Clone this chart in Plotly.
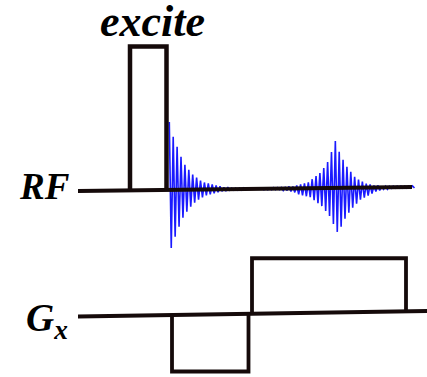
import plotly.graph_objects as go

# ---- sequence timing (horizontal units) and amplitudes ----
rf_start, rf_end = 78, 412          # RF axis extent
gx_start, gx_end = 78, 427          # Gx axis extent

excite_t = [130, 166.5]             # hard excitation pulse on / off
excite_amp = 144                    # pulse height

gx_lobe_start = [172, 252]          # dephase lobe, readout lobe
gx_lobe_end = [248.5, 406]
gx_lobe_amp = [-56.5, 55.5]

# free induction decay: positive / negative peak per cycle
fid_t0 = 169.3
fid_period = 3.9
fid_up = [68, 53, 43, 33, 25, 20, 15, 12, 9, 7, 6, 5, 4, 3, 2, 2, 1, 1, 1, 1]
fid_down = [58, 47, 37, 28, 22, 17, 13, 10, 8, 6, 5, 4, 3, 2, 2, 1, 1, 1, 1, 1]

# gradient echo: positive / negative peak per cycle
echo_t0 = 262
echo_period = 3.86
echo_up = [0.5, 0.5, 0.5, 1, 1, 1, 1, 2, 2, 3, 4, 5, 6, 9, 12, 15, 20, 26, 36, 47,
           36, 28, 21, 16, 11, 8, 6, 4, 3, 2, 2, 1, 1, 1, 1, 1, 1, 1, 1, 1]
echo_down = [1, 1, 1, 1, 1, 2, 2, 3, 4, 6, 7, 8, 9, 12, 15, 18, 23, 28, 36, 44,
             39, 31, 25, 20, 16, 12, 10, 8, 6, 4, 3, 2, 2, 1, 1, 1, 1, 1, 1, 1]

INK = "#150a0a"
BLUE = "#1a1aff"


def rf_base(t):
    return 191 - 4 * (t - rf_start) / (rf_end - rf_start)


def gx_base(t):
    return 316.5 - 5.5 * (t - gx_start) / (gx_end - gx_start)


def zigzag(t0, period, ups, downs):
    xs, ys = [], []
    for k, (u, d) in enumerate(zip(ups, downs)):
        tu = t0 + k * period
        td = tu + period / 2
        xs += [tu, td]
        ys += [rf_base(tu) - u, rf_base(td) + d]
    return xs, ys


fig = go.Figure()

# signal traces
for t0, per, ups, downs in [(fid_t0, fid_period, fid_up, fid_down),
                            (echo_t0, echo_period, echo_up, echo_down)]:
    xs, ys = zigzag(t0, per, ups, downs)
    fig.add_trace(go.Scatter(x=xs, y=ys, mode="lines",
                             line=dict(color=BLUE, width=1.6)))

# RF axis
fig.add_trace(go.Scatter(x=[rf_start, rf_end], y=[rf_base(rf_start), rf_base(rf_end)],
                         mode="lines", line=dict(color=INK, width=4)))

# excitation pulse
a, b = excite_t
fig.add_trace(go.Scatter(
    x=[a, a, b, b],
    y=[rf_base(a), rf_base(a) - excite_amp, rf_base(a) - excite_amp, rf_base(b)],
    mode="lines", line=dict(color=INK, width=4.5)))

# Gx axis and lobes
fig.add_trace(go.Scatter(x=[gx_start, gx_end], y=[gx_base(gx_start), gx_base(gx_end)],
                         mode="lines", line=dict(color=INK, width=3.8)))
for s, e, amp in zip(gx_lobe_start, gx_lobe_end, gx_lobe_amp):
    fig.add_trace(go.Scatter(
        x=[s, s, e, e],
        y=[gx_base(s), gx_base(s) - amp, gx_base(s) - amp, gx_base(e)],
        mode="lines", line=dict(color=INK, width=3.8)))

serif = "Liberation Serif"
fig.add_annotation(x=152, y=21, text="<b><i>excite</i></b>", showarrow=False,
                   xanchor="center", yanchor="middle",
                   font=dict(family=serif, size=44, color="#000000"))
fig.add_annotation(x=72, y=186, text="<b><i>RF</i></b>", showarrow=False,
                   xanchor="right", yanchor="middle",
                   font=dict(family=serif, size=37, color="#000000"))
fig.add_annotation(x=24, y=320, text="<b><i>G<sub>x</sub></i></b>", showarrow=False,
                   xanchor="left", yanchor="middle",
                   font=dict(family=serif, size=39, color="#000000"))

fig.update_layout(
    width=427, height=377,
    margin=dict(l=0, r=0, t=0, b=0),
    paper_bgcolor="white", plot_bgcolor="white",
    showlegend=False, hovermode=False,
    xaxis=dict(range=[0, 427], visible=False, fixedrange=True),
    yaxis=dict(range=[377, 0], visible=False, fixedrange=True),
)

fig.write_html("out.html")
